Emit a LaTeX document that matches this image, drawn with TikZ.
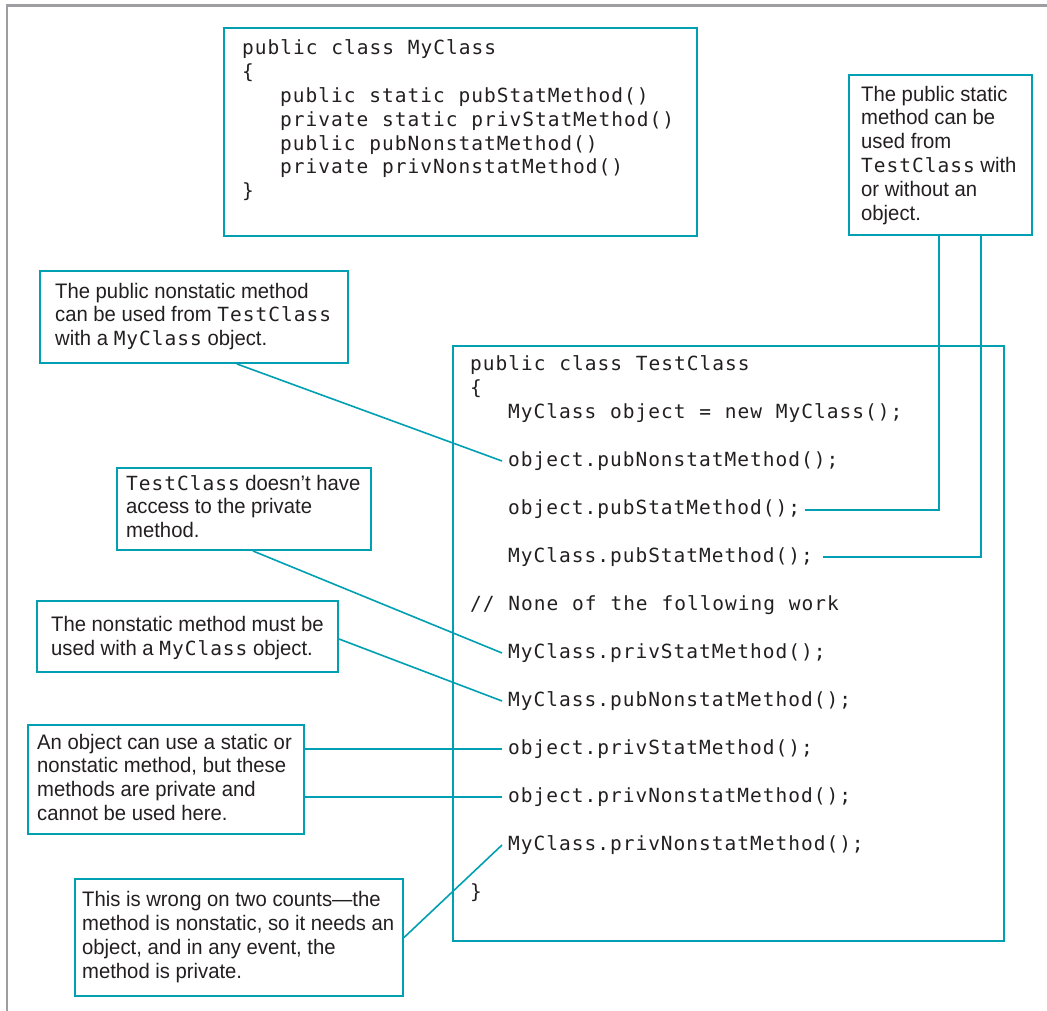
\documentclass[tikz,border=0pt]{standalone}
\usepackage{fontspec}
\setmainfont{Liberation Sans}[FakeStretch=0.965]
\newfontfamily\codefam{DejaVu Sans Mono}[LetterSpace=5.1,WordSpace=1.085]
\definecolor{tealc}{RGB}{0,160,178}
\definecolor{framec}{RGB}{158,158,162}
\definecolor{inkc}{RGB}{35,31,32}
\newcommand\calloutfont{\fontsize{21}{23.8}\selectfont}
\newcommand\codesz{\codefam\fontsize{19.5}{23.8}\selectfont}
\newcommand\mono[1]{{\codesz #1}}
\tikzset{
  boxed/.style={draw=tealc, line width=2pt, inner sep=0pt, anchor=north west},
  conn/.style={draw=tealc, line width=1.6pt},
  codeline/.style={anchor=base west, inner sep=0pt, font=\codesz, text=inkc},
  ctext/.style={anchor=north west, inner sep=0pt, align=left, font=\calloutfont, text=inkc},
}
\begin{document}
\begin{tikzpicture}[x=1pt,y=-1pt]
\useasboundingbox (0,0) rectangle (1047,1011);
% outer frame
\draw[framec, line width=2.5pt] (7,1011) -- (7,5.5) -- (1047,5.5);

% boxes
\node[boxed, minimum width=473pt, minimum height=208pt] (mc) at (223,27) {};
\node[boxed, minimum width=183pt, minimum height=160pt] (rc) at (848,74) {};
\node[boxed, minimum width=308pt, minimum height=92pt] (c1) at (39,270) {};
\node[boxed, minimum width=551pt, minimum height=595pt] (tc) at (452,345) {};
\node[boxed, minimum width=254pt, minimum height=82pt] (c2) at (116,467) {};
\node[boxed, minimum width=301pt, minimum height=71pt] (c3) at (36,600) {};
\node[boxed, minimum width=276pt, minimum height=109pt] (c4) at (27,724) {};
\node[boxed, minimum width=328pt, minimum height=117pt] (c5) at (74,878) {};

% MyClass code
\node[codeline] (m1) at (242,55) {public class MyClass};
\node[codeline] (m2) at (242,78.8) {\{};
\node[codeline] (m3) at (280,102.6) {public static pubStatMethod()};
\node[codeline] (m4) at (280,126.4) {private static privStatMethod()};
\node[codeline] (m5) at (280,150.2) {public pubNonstatMethod()};
\node[codeline] (m6) at (280,174) {private privNonstatMethod()};
\node[codeline] (m7) at (242,197.8) {\}};

% TestClass code
\node[codeline] (t1) at (470,370) {public class TestClass};
\node[codeline] (t2) at (470,394) {\{};
\node[codeline] (t3) at (508,418) {MyClass object = new MyClass();};
\node[codeline] (t4) at (508,466) {object.pubNonstatMethod();};
\node[codeline] (t5) at (508,514) {object.pubStatMethod();};
\node[codeline] (t6) at (508,562) {MyClass.pubStatMethod();};
\node[codeline] (t7) at (470,610) {// None of the following work};
\node[codeline] (t8) at (508,658) {MyClass.privStatMethod();};
\node[codeline] (t9) at (508,706) {MyClass.pubNonstatMethod();};
\node[codeline] (t10) at (508,754) {object.privStatMethod();};
\node[codeline] (t11) at (508,802) {object.privNonstatMethod();};
\node[codeline] (t12) at (508,850) {MyClass.privNonstatMethod();};
\node[codeline] (t13) at (470,898) {\}};

% callout texts
\node[ctext] (rct) at (861,84.3) {\strut The public static\\method can be\\used from\\\mono{TestClass} with\\or without an\\object.};
\node[ctext] (c1t) at (55,281.3) {\strut The public nonstatic method\\can be used from \mono{TestClass}\\with a \mono{MyClass} object.};
\node[ctext] (c2t) at (126,473.3) {\strut\mono{TestClass} doesn’t have\\access to the private\\method.};
\node[ctext] (c3t) at (51,615) {\strut The nonstatic method must be\\used with a \mono{MyClass} object.};
\node[ctext] (c4t) at (37,732.3) {\strut An object can use a static or\\nonstatic method, but these\\methods are private and\\cannot be used here.};
\node[ctext] (c5t) at (82,890) {\strut This is wrong on two counts—the\\method is nonstatic, so it needs an\\object, and in any event, the\\method is private.};

% connector end points
\coordinate (e4) at ([xshift=-6pt,yshift=5pt]t4.base west);
\coordinate (e8) at ([xshift=-6pt,yshift=5pt]t8.base west);
\coordinate (e9) at ([xshift=-6pt,yshift=5pt]t9.base west);
\coordinate (e10) at ([xshift=-6pt,yshift=5pt]t10.base west);
\coordinate (e11) at ([xshift=-6pt,yshift=5pt]t11.base west);
\coordinate (e12) at ([xshift=-6pt,yshift=5pt]t12.base west);
\coordinate (s5) at ([xshift=5pt,yshift=4pt]t5.base east);
\coordinate (s6) at ([xshift=10pt,yshift=5pt]t6.base east);

% connectors
\draw[conn] ([xshift=198pt]c1.south west) -- (e4);
\draw[conn] ([xshift=137pt]c2.south west) -- (e8);
\draw[conn] ([yshift=-2.5pt]c3.east) -- (e9);
\draw[conn] (e10 -| c4.east) -- (e10);
\draw[conn] (e11 -| c4.east) -- (e11);
\draw[conn] (c5.east) -- (e12);
\draw[conn] ([xshift=91pt]rc.south west) |- (s5);
\draw[conn] ([xshift=133pt]rc.south west) |- (s6);
\end{tikzpicture}
\end{document}
